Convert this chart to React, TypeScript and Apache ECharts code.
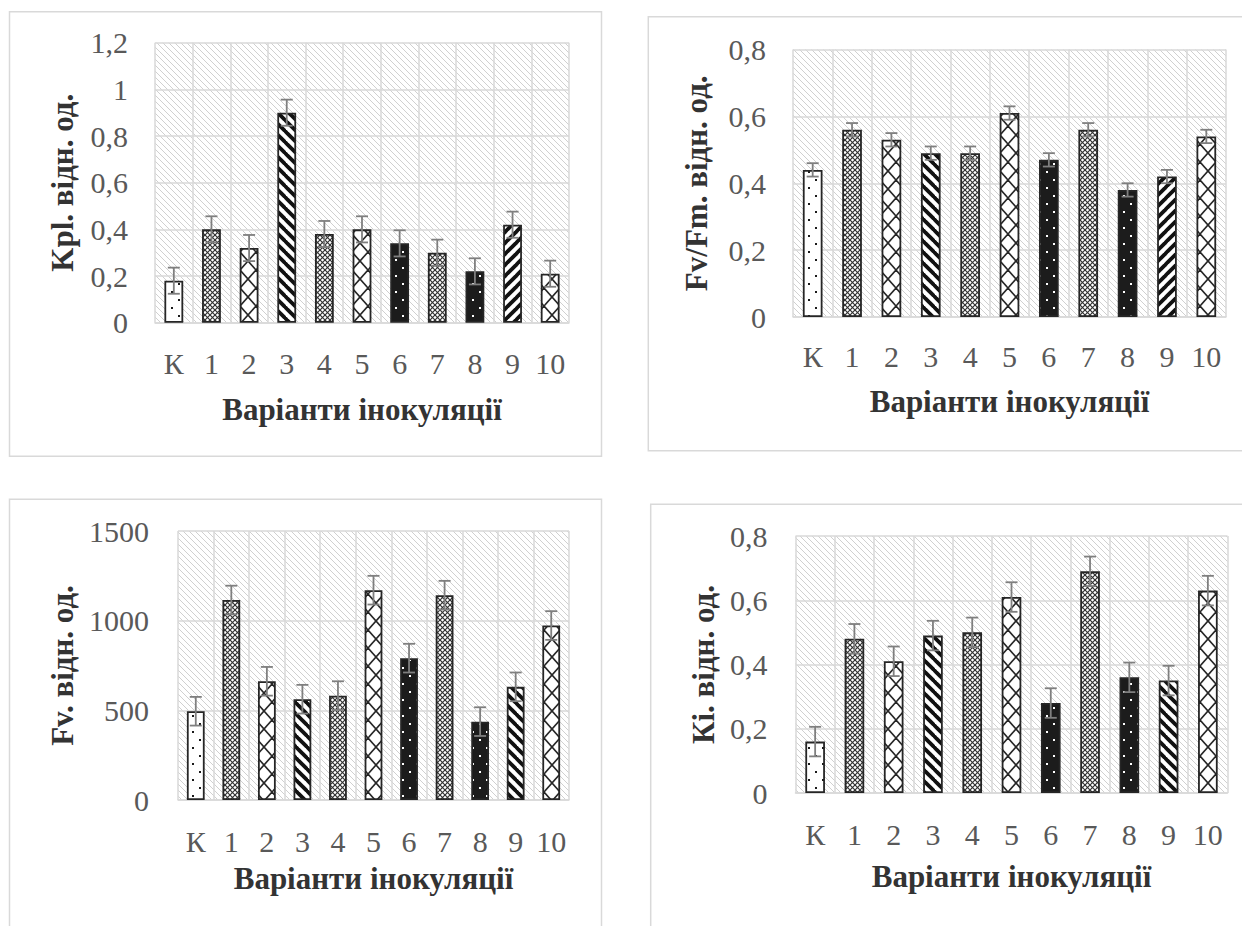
import React, { useEffect, useRef } from "react";
import * as echarts from "echarts";

// ---------- data ----------
const categories = ["К", "1", "2", "3", "4", "5", "6", "7", "8", "9", "10"];

const kplValues = [0.18, 0.4, 0.32, 0.9, 0.38, 0.4, 0.34, 0.3, 0.22, 0.42, 0.21];
const kplErrors = [0.056, 0.056, 0.056, 0.056, 0.056, 0.056, 0.056, 0.056, 0.056, 0.056, 0.056];

const fvfmValues = [0.44, 0.56, 0.53, 0.49, 0.49, 0.61, 0.47, 0.56, 0.38, 0.42, 0.54];
const fvfmErrors = [0.02, 0.02, 0.02, 0.02, 0.02, 0.02, 0.02, 0.02, 0.02, 0.02, 0.02];

const fvValues = [495, 1115, 662, 562, 582, 1170, 791, 1142, 437, 631, 973];
const fvErrors = [80, 80, 80, 80, 80, 80, 80, 80, 80, 80, 80];

const kiValues = [0.16, 0.48, 0.41, 0.49, 0.5, 0.61, 0.28, 0.69, 0.36, 0.35, 0.63];
const kiErrors = [0.046, 0.046, 0.046, 0.046, 0.046, 0.046, 0.046, 0.046, 0.046, 0.046, 0.046];

const patternsTop = ["dotsWhite", "smallCross", "lattice", "wideDown", "smallCross", "lattice", "dotsBlack", "smallCross", "dotsBlack", "wideUp", "lattice"];
const patternsBottom = ["dotsWhite", "smallCross", "lattice", "wideDown", "smallCross", "lattice", "dotsBlack", "smallCross", "dotsBlack", "wideDown", "lattice"];

const xTitle = "Варіанти інокуляції";
const yTitles = ["Kpl. відн. од.", "Fv/Fm. відн. од.", "Fv. відн. од.", "Кі. відн. од."];

// ---------- patterns ----------
function tile(w: number, h: number, draw: (ctx: CanvasRenderingContext2D) => void) {
  const c = document.createElement("canvas");
  c.width = w;
  c.height = h;
  const ctx = c.getContext("2d") as CanvasRenderingContext2D;
  draw(ctx);
  return { image: c, repeat: "repeat", imageWidth: w, imageHeight: h } as any;
}

function diag(ctx: CanvasRenderingContext2D, w: number, h: number, down: boolean) {
  for (const k of [-w, 0, w]) {
    ctx.beginPath();
    if (down) {
      ctx.moveTo(k - 1, -1 * (h / w));
      ctx.lineTo(k + w + 1, h + h / w);
    } else {
      ctx.moveTo(k - 1, h + h / w);
      ctx.lineTo(k + w + 1, -1 * (h / w));
    }
    ctx.stroke();
  }
}

function makePattern(kind: string) {
  switch (kind) {
    case "bg":
      return tile(6, 6, (ctx) => {
        ctx.fillStyle = "#ffffff";
        ctx.fillRect(0, 0, 6, 6);
        ctx.strokeStyle = "#d0d0d0";
        ctx.lineWidth = 1;
        diag(ctx, 6, 6, true);
      });
    case "dotsWhite":
      return tile(14, 16, (ctx) => {
        ctx.fillStyle = "#ffffff";
        ctx.fillRect(0, 0, 14, 16);
        ctx.fillStyle = "#1a1a1a";
        ctx.fillRect(3, 3, 2, 2);
        ctx.fillRect(10, 11, 2, 2);
      });
    case "dotsBlack":
      return tile(14, 16, (ctx) => {
        ctx.fillStyle = "#1c1c1c";
        ctx.fillRect(0, 0, 14, 16);
        ctx.fillStyle = "#ffffff";
        ctx.fillRect(3, 3, 2, 2);
        ctx.fillRect(10, 11, 2, 2);
      });
    case "smallCross":
      return tile(5, 5, (ctx) => {
        ctx.fillStyle = "#ffffff";
        ctx.fillRect(0, 0, 5, 5);
        ctx.strokeStyle = "#333333";
        ctx.lineWidth = 1.2;
        diag(ctx, 5, 5, true);
        diag(ctx, 5, 5, false);
      });
    case "lattice":
      return tile(16, 18, (ctx) => {
        ctx.fillStyle = "#ffffff";
        ctx.fillRect(0, 0, 16, 18);
        ctx.strokeStyle = "#262626";
        ctx.lineWidth = 1.6;
        diag(ctx, 16, 18, true);
        diag(ctx, 16, 18, false);
      });
    case "wideDown":
      return tile(11, 11, (ctx) => {
        ctx.fillStyle = "#ffffff";
        ctx.fillRect(0, 0, 11, 11);
        ctx.strokeStyle = "#111111";
        ctx.lineWidth = 3.8;
        diag(ctx, 11, 11, true);
      });
    case "wideUp":
    default:
      return tile(11, 11, (ctx) => {
        ctx.fillStyle = "#ffffff";
        ctx.fillRect(0, 0, 11, 11);
        ctx.strokeStyle = "#111111";
        ctx.lineWidth = 3.8;
        diag(ctx, 11, 11, false);
      });
  }
}

const FONT = '"Liberation Serif", "Times New Roman", serif';

function fmt(v: number) {
  const r = Math.round(v * 100) / 100;
  return String(r).replace(".", ",");
}

export default function App() {
  const ref = useRef<HTMLDivElement>(null);

  useEffect(() => {
    document.body.style.margin = "0";
    document.body.style.overflow = "hidden";
    if (!ref.current) return;
    const chart = echarts.init(ref.current, undefined, { renderer: "svg" });

    const panels = [
      { values: kplValues, errors: kplErrors, pats: patternsTop, max: 1.2, interval: 0.2,
        grid: { left: 155, top: 42.7, width: 414, height: 280 },
        labelMargin: 26, nameGap: 71, yMargin: 27, yNameGap: 77 },
      { values: fvfmValues, errors: fvfmErrors, pats: patternsTop, max: 0.8, interval: 0.2,
        grid: { left: 793, top: 49.5, width: 433, height: 267.5 },
        labelMargin: 24, nameGap: 69, yMargin: 27, yNameGap: 81 },
      { values: fvValues, errors: fvErrors, pats: patternsBottom, max: 1500, interval: 500,
        grid: { left: 178, top: 531, width: 391, height: 269 },
        labelMargin: 26, nameGap: 63, yMargin: 29, yNameGap: 100 },
      { values: kiValues, errors: kiErrors, pats: patternsBottom, max: 0.8, interval: 0.2,
        grid: { left: 795.5, top: 536, width: 432, height: 257 },
        labelMargin: 26, nameGap: 68, yMargin: 28, yNameGap: 77 },
    ];

    const bg = makePattern("bg");
    const cache: Record<string, any> = {};
    const pat = (k: string) => (cache[k] = cache[k] || makePattern(k));

    const grids = panels.map((p) => ({
      ...p.grid,
      show: true,
      backgroundColor: bg,
      borderWidth: 0,
      containLabel: false,
    }));

    const xAxes = panels.map((p, i) => ({
      type: "category",
      gridIndex: i,
      data: categories,
      axisTick: { show: false },
      axisLine: { show: true, lineStyle: { color: "#d9d9d9", width: 1.5 } },
      splitLine: { show: true, lineStyle: { color: "#d9d9d9", width: 1.5 } },
      axisLabel: { fontSize: 30, color: "#595959", fontFamily: FONT, margin: p.labelMargin, interval: 0 },
      name: xTitle,
      nameLocation: "middle",
      nameGap: p.nameGap,
      nameTextStyle: { fontSize: 31, fontWeight: "bold", color: "#333333", fontFamily: FONT },
    }));

    const yAxes = panels.map((p, i) => ({
      type: "value",
      gridIndex: i,
      min: 0,
      max: p.max,
      interval: p.interval,
      axisLine: { show: false },
      axisTick: { show: false },
      splitLine: { show: true, lineStyle: { color: "#d9d9d9", width: 1.5 } },
      axisLabel: { fontSize: 30, color: "#595959", fontFamily: FONT, margin: p.yMargin, formatter: fmt },
      name: yTitles[i],
      nameLocation: "middle",
      nameRotate: 90,
      nameGap: p.yNameGap,
      nameTextStyle: { fontSize: 31, fontWeight: "bold", color: "#333333", fontFamily: FONT },
    }));

    const series: any[] = [];
    panels.forEach((p, i) => {
      series.push({
        type: "bar",
        xAxisIndex: i,
        yAxisIndex: i,
        barWidth: "50%",
        data: p.values.map((v, j) => ({ value: v, itemStyle: { color: pat(p.pats[j]) } })),
        itemStyle: { borderColor: "#262626", borderWidth: 1.8 },
        z: 2,
      });
      series.push({
        type: "custom",
        xAxisIndex: i,
        yAxisIndex: i,
        z: 3,
        encode: { x: 0, y: 1 },
        data: p.values.map((v, j) => [j, v, p.errors[j]]),
        renderItem: (params: any, api: any) => {
          const x = api.value(0);
          const v = api.value(1);
          const e = api.value(2);
          const top = api.coord([x, v + e]);
          const bot = api.coord([x, v - e]);
          const hw = 6;
          const style = { stroke: "#7f7f7f", lineWidth: 1.8 };
          return {
            type: "group",
            children: [
              { type: "line", shape: { x1: top[0], y1: top[1], x2: bot[0], y2: bot[1] }, style },
              { type: "line", shape: { x1: top[0] - hw, y1: top[1], x2: top[0] + hw, y2: top[1] }, style },
              { type: "line", shape: { x1: bot[0] - hw, y1: bot[1], x2: bot[0] + hw, y2: bot[1] }, style },
            ],
          };
        },
      });
    });

    const border = { fill: "none", stroke: "#d9d9d9", lineWidth: 1.5 };
    const graphic = [
      { type: "rect", shape: { x: 9.5, y: 11.7, width: 592, height: 444.5 }, style: border, z: -10, silent: true },
      { type: "rect", shape: { x: 648.3, y: 16.7, width: 620, height: 434 }, style: border, z: -10, silent: true },
      { type: "rect", shape: { x: 9.5, y: 499.3, width: 592, height: 460 }, style: border, z: -10, silent: true },
      { type: "rect", shape: { x: 650.7, y: 504.3, width: 620, height: 460 }, style: border, z: -10, silent: true },
    ];

    chart.setOption({
      animation: false,
      backgroundColor: "#ffffff",
      textStyle: { fontFamily: FONT },
      grid: grids,
      xAxis: xAxes,
      yAxis: yAxes,
      series,
      graphic,
    } as any);

    return () => chart.dispose();
  }, []);

  return <div ref={ref} style={{ width: 1242, height: 926 }} />;
}
